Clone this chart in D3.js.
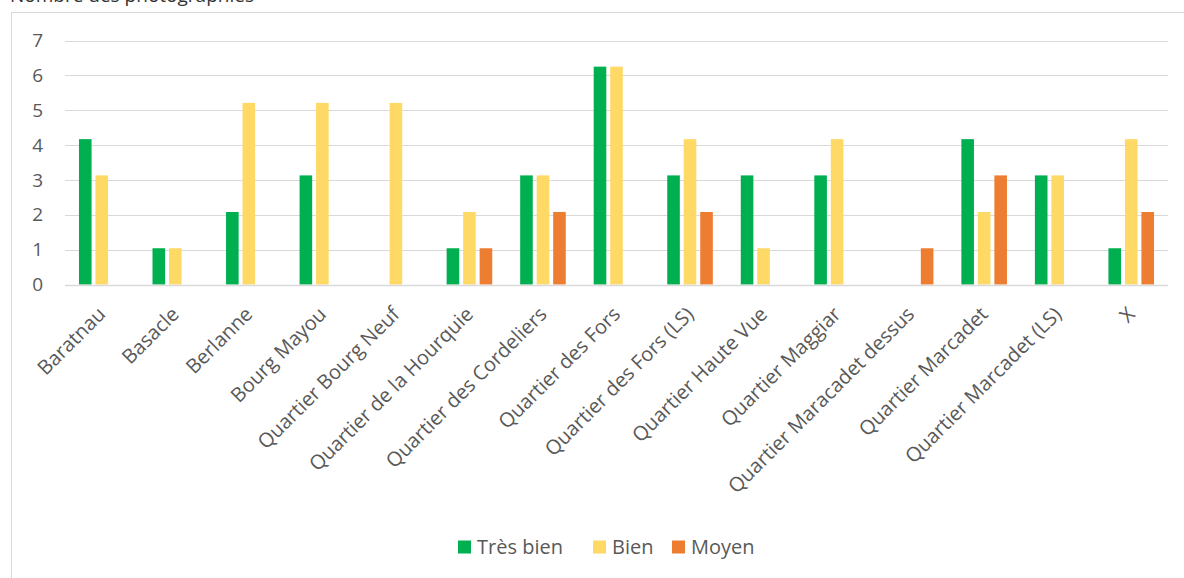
<!DOCTYPE html>
<html><head><meta charset="utf-8">
<script src="https://cdn.jsdelivr.net/npm/d3@7"></script>
<style>html,body{margin:0;padding:0;background:#fff;overflow:hidden}</style>
</head><body>
<svg id="chart" width="1184" height="578"></svg>
<script>
const categories = ["Baratnau","Basacle","Berlanne","Bourg Mayou","Quartier Bourg Neuf","Quartier de la Hourquie","Quartier des Cordeliers","Quartier des Fors","Quartier des Fors (LS)","Quartier Haute Vue","Quartier Maggiar","Quartier Maracadet dessus","Quartier Marcadet","Quartier Marcadet (LS)","X"];
const tresBien = [4.17,1.04,2.08,3.13,0,1.04,3.13,6.25,3.13,3.13,3.13,0,4.17,3.13,1.04];
const bien     = [3.13,1.04,5.21,5.21,5.21,2.08,3.13,6.25,4.17,1.04,4.17,0,2.08,3.13,4.17];
const moyen    = [0,0,0,0,0,1.04,2.08,0,2.08,0,0,1.04,3.13,0,2.08];
const seriesNames = ["Très bien","Bien","Moyen"];
const seriesColors = ["#00B050","#FFD966","#ED7D31"];
const yTicks = [0,1,2,3,4,5,6,7];

const svg = d3.select("#chart");
const font = "'Open Sans', 'Noto Sans', sans-serif";
const txt = "#595959";

// clipped document text above the chart (cut off in the reference too)
svg.append("text").attr("x", 10).attr("y", 1.5).attr("font-family", font).attr("font-size", 19)
  .attr("fill", "#333").text("Nombre des photographies");

// chart frame
svg.append("rect").attr("x", 11.5).attr("y", 12.5).attr("width", 1200).attr("height", 600)
  .attr("fill", "none").attr("stroke", "#D9D9D9").attr("stroke-width", 1);

const x0 = 65, x1 = 1168, yTop = 40.5, yBot = 284.5;
const x = d3.scaleBand().domain(categories).range([x0, x1]);
const y = d3.scaleLinear().domain([0, 7]).range([yBot, yTop]);

// gridlines
svg.append("g").selectAll("line").data(yTicks).join("line")
  .attr("x1", x0).attr("x2", x1)
  .attr("y1", d => Math.round(y(d)) + 0.5).attr("y2", d => Math.round(y(d)) + 0.5)
  .attr("stroke", "#D9D9D9").attr("stroke-width", 1);

// y tick labels
svg.append("g").selectAll("text").data(yTicks).join("text")
  .attr("x", 43).attr("y", d => y(d)).attr("dy", "0.35em")
  .attr("text-anchor", "end").attr("font-family", font).attr("font-size", 19)
  .attr("fill", txt).text(d => d);

// bars
const seriesData = [tresBien, bien, moyen];
const bw = x.bandwidth();
const pitch = 16.5, barW = 12.6;
const xs = d3.scaleBand().domain([0,1,2]).range([bw/2 - 1.5*pitch, bw/2 + 1.5*pitch]);
seriesData.forEach((vals, si) => {
  svg.append("g").selectAll("rect").data(vals.map((v, i) => ({c: categories[i], v}))).join("rect")
    .filter(d => d.v > 0)
    .attr("x", d => x(d.c) + xs(si) + (pitch - barW)/2)
    .attr("width", barW)
    .attr("y", d => y(d.v))
    .attr("height", d => y(0) - y(d.v))
    .attr("fill", seriesColors[si]);
});

// baseline
svg.append("line").attr("x1", x0).attr("x2", x1).attr("y1", Math.round(yBot)+0.5).attr("y2", Math.round(yBot)+0.5)
  .attr("stroke", "#D9D9D9").attr("stroke-width", 1.5);

// category labels
svg.append("g").selectAll("text").data(categories).join("text")
  .attr("transform", d => `translate(${x(d) + bw/2},${yBot + 26}) rotate(-45)`)
  .attr("text-anchor", "end").attr("dy", "0.35em")
  .attr("font-family", font).attr("font-size", 20).attr("fill", txt)
  .text(d => d);

// legend
const legX = [458, 593, 672];
const lg = svg.append("g");
seriesNames.forEach((n, i) => {
  lg.append("rect").attr("x", legX[i]).attr("y", 540.5).attr("width", 13).attr("height", 13).attr("fill", seriesColors[i]);
  lg.append("text").attr("x", legX[i] + 19).attr("y", 547).attr("dy", "0.35em")
    .attr("font-family", font).attr("font-size", 20).attr("fill", txt).text(n);
});
</script>
</body></html>
